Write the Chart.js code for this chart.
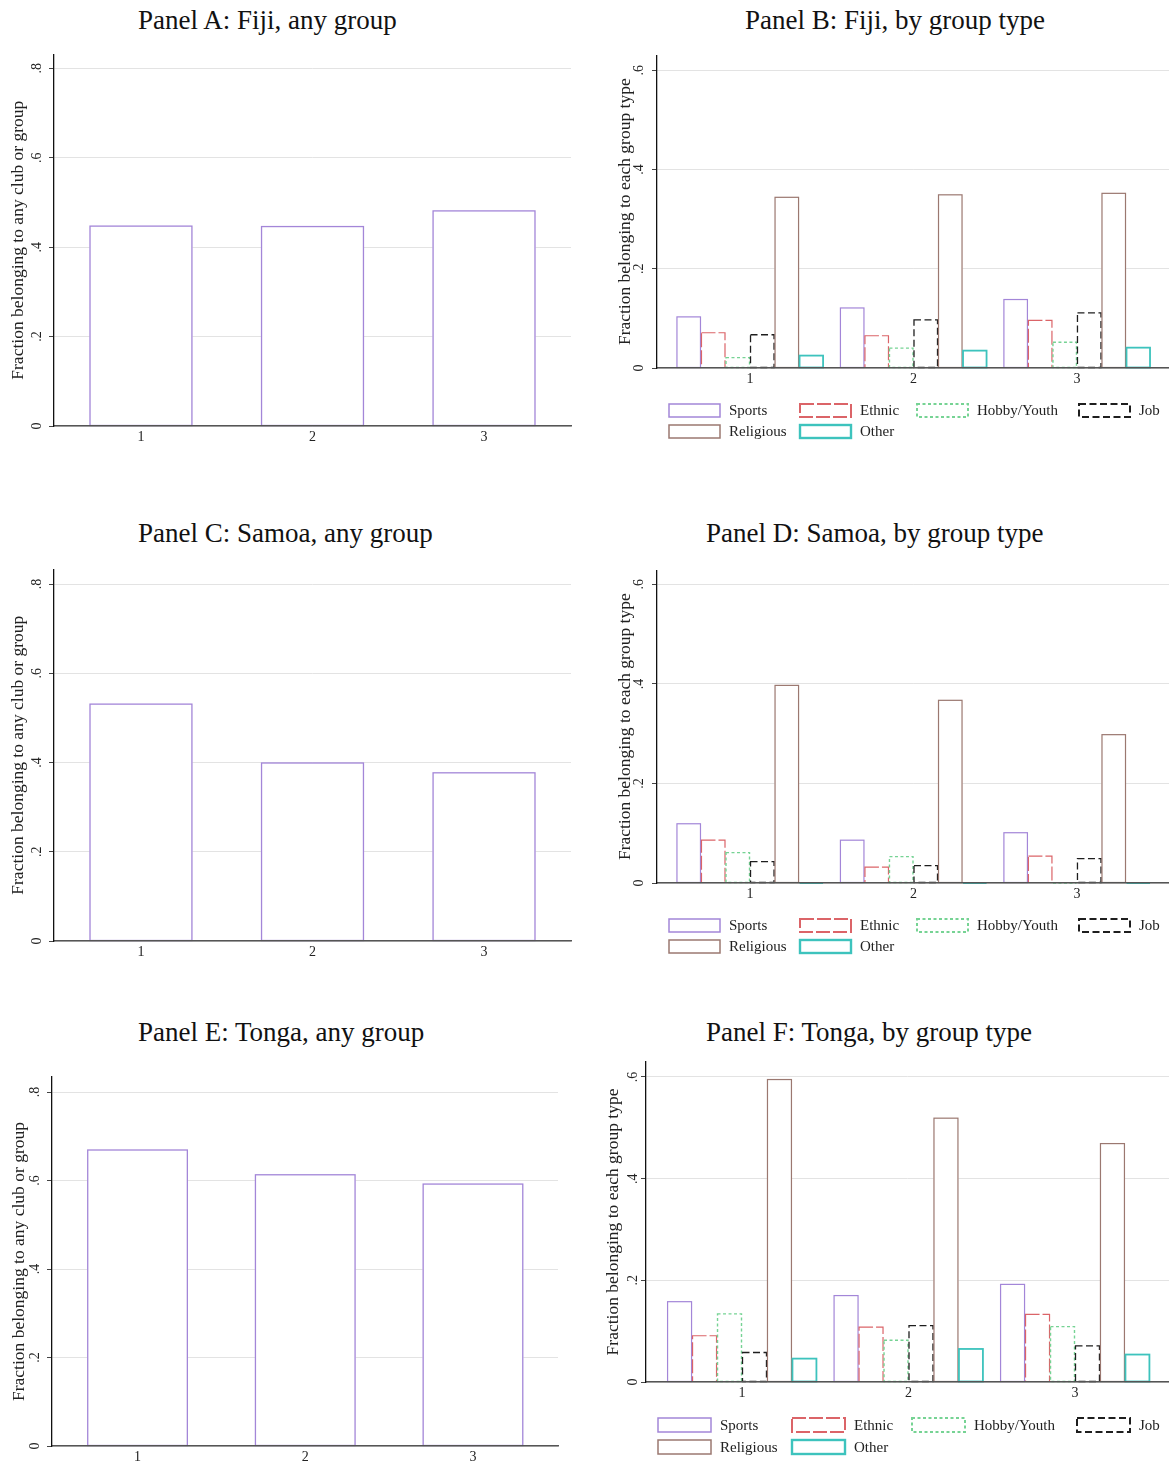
<!DOCTYPE html>
<html>
<head>
<meta charset="utf-8">
<script src="https://cdn.jsdelivr.net/npm/chart.js@4.4.1/dist/chart.umd.min.js"></script>
<style>
  html, body { margin: 0; padding: 0; background: #fff; }
  body { width: 1169px; height: 1465px; position: relative; overflow: hidden; font-family: "Liberation Serif", serif; }
  .title { position: absolute; font-size: 27px; line-height: 30px; color: #111; white-space: nowrap; }
  canvas { position: absolute; }
</style>
</head>
<body>
<div class="title" style="left:138px;top:5px">Panel A: Fiji, any group</div>
<div class="title" style="left:745px;top:5px">Panel B: Fiji, by group type</div>
<div class="title" style="left:138px;top:518px">Panel C: Samoa, any group</div>
<div class="title" style="left:706px;top:518px">Panel D: Samoa, by group type</div>
<div class="title" style="left:138px;top:1017px">Panel E: Tonga, any group</div>
<div class="title" style="left:706px;top:1017px">Panel F: Tonga, by group type</div>

<canvas id="panelA" width="580" height="420" style="left:0;top:40px"></canvas>
<canvas id="panelB" width="569" height="420" style="left:600px;top:40px"></canvas>
<canvas id="panelC" width="580" height="420" style="left:0;top:555px"></canvas>
<canvas id="panelD" width="569" height="420" style="left:600px;top:555px"></canvas>
<canvas id="panelE" width="580" height="405" style="left:0;top:1060px"></canvas>
<canvas id="panelF" width="569" height="415" style="left:600px;top:1050px"></canvas>

<script>
// Vagues d'enquête (axe x) et graduations
const waves = [1, 2, 3];
const anyTicks = [0, 0.2, 0.4, 0.6, 0.8];
const typeTicks = [0, 0.2, 0.4, 0.6];
const groupTypes = ['Sports', 'Ethnic', 'Hobby/Youth', 'Job', 'Religious', 'Other'];

// Panneaux A, C, E : n'importe quel groupe
const fijiAny = [0.447, 0.446, 0.481];
const samoaAny = [0.531, 0.399, 0.377];
const tongaAny = [0.669, 0.613, 0.592];

// Panneau B : Fidji par type de groupe
const fijiSports = [0.103, 0.121, 0.138];
const fijiEthnic = [0.071, 0.065, 0.096];
const fijiHobby = [0.021, 0.040, 0.052];
const fijiJob = [0.067, 0.097, 0.111];
const fijiReligious = [0.344, 0.349, 0.352];
const fijiOther = [0.025, 0.035, 0.041];

// Panneau D : Samoa par type de groupe
const samoaSports = [0.119, 0.086, 0.101];
const samoaEthnic = [0.086, 0.032, 0.054];
const samoaHobby = [0.061, 0.053, 0];
const samoaJob = [0.043, 0.035, 0.049];
const samoaReligious = [0.397, 0.367, 0.298];
const samoaOther = [0, 0, 0];

// Panneau F : Tonga par type de groupe
const tongaSports = [0.158, 0.170, 0.192];
const tongaEthnic = [0.091, 0.108, 0.133];
const tongaHobby = [0.134, 0.082, 0.109];
const tongaJob = [0.058, 0.111, 0.071];
const tongaReligious = [0.595, 0.519, 0.469];
const tongaOther = [0.046, 0.065, 0.054];

// Styles des contours (couleur, pointillés, épaisseur)
const typeColors = ['#a386d8', '#db6468', '#76d394', '#1e1e1e', '#9b7870', '#3dc3bd'];
const typeDashes = [[], [14, 3], [3, 2.5], [7, 3.5], [], []];
const typeWidths = [1.2, 1.2, 1.4, 1.3, 1.2, 1.8];
const legendWidths = [1.5, 2, 2, 2, 1.5, 2.4];
const anyColor = '#a386d8';

const FONT = '"Liberation Serif", serif';

// Chart.js ne sait pas faire des barres en pointillés : on trace les contours à la main
const barOutline = {
    id: 'barOutline',
    afterDatasetsDraw(chart) {
        const ctx = chart.ctx;
        chart.data.datasets.forEach((ds, i) => {
            const meta = chart.getDatasetMeta(i);
            meta.data.forEach(bar => {
                const p = bar.getProps(['x', 'y', 'base', 'width'], true);
                ctx.save();
                ctx.strokeStyle = ds.outlineColor;
                ctx.lineWidth = ds.outlineWidth;
                ctx.setLineDash(ds.outlineDash);
                ctx.strokeRect(p.x - p.width / 2 + 0.5, p.y, p.width - 1, p.base - p.y);
                ctx.restore();
            });
        });
    }
};

// Légende en colonnes (4 par ligne), comme dans Stata
const columnLegend = {
    id: 'columnLegend',
    afterDraw(chart, args, opts) {
        const ctx = chart.ctx;
        const area = chart.chartArea;
        chart.data.datasets.forEach((ds, i) => {
            const col = i % 4;
            const row = Math.floor(i / 4);
            const bx = area.left + opts.cols[col];
            const by = area.bottom + opts.rowTop + row * opts.rowGap;
            ctx.save();
            ctx.strokeStyle = ds.outlineColor;
            ctx.lineWidth = ds.legendWidth;
            ctx.setLineDash(ds.outlineDash);
            ctx.strokeRect(bx, by, opts.boxW, opts.boxH);
            ctx.restore();
            ctx.save();
            ctx.fillStyle = '#222';
            ctx.font = '15px ' + FONT;
            ctx.textBaseline = 'middle';
            ctx.textAlign = 'left';
            ctx.fillText(ds.label, bx + opts.textDx, by + opts.boxH / 2 + 1);
            ctx.restore();
        });
    }
};

function fmtTick(v) {
    return v === 0 ? '0' : String(v).replace(/^0\./, '.');
}

function makeChart(id, datasets, yTicks, yTitle, lay) {
    const ctx = document.getElementById(id);
    const byType = datasets.length > 1;
    return new Chart(ctx, {
        type: 'bar',
        data: {
            labels: waves,
            datasets: datasets
        },
        plugins: byType ? [barOutline, columnLegend] : [barOutline],
        options: {
            responsive: false,
            animation: false,
            layout: {
                padding: { top: lay.padTop, right: lay.padRight, left: 0, bottom: 0 }
            },
            plugins: {
                colors: { enabled: false },
                legend: { display: false },
                tooltip: { enabled: false },
                columnLegend: lay.legend
            },
            scales: {
                x: {
                    type: 'linear',
                    offset: false,
                    min: lay.xMin,
                    max: lay.xMax,
                    afterBuildTicks: (scale) => { scale.ticks = waves.map(v => ({ value: v })); },
                    afterFit: (scale) => { scale.height = lay.xHeight; },
                    grid: { display: false, drawTicks: false, offset: false },
                    border: { display: true, color: '#555', width: 1.5, z: 1 },
                    ticks: {
                        padding: 3,
                        color: '#222',
                        font: { family: FONT, size: 14 },
                        callback: (v) => String(v)
                    }
                },
                y: {
                    min: 0,
                    max: lay.yMax,
                    afterBuildTicks: (scale) => { scale.ticks = yTicks.map(v => ({ value: v })); },
                    afterFit: (scale) => { scale.width = lay.yWidth; },
                    grid: {
                        color: '#e3e3e3',
                        lineWidth: 1,
                        tickColor: '#444',
                        tickLength: 5
                    },
                    border: { display: true, color: '#111', width: 1.3, z: 1 },
                    ticks: {
                        minRotation: 90,
                        maxRotation: 90,
                        crossAlign: 'center',
                        padding: lay.tickPad,
                        color: '#222',
                        font: { family: FONT, size: 14 },
                        callback: fmtTick
                    },
                    title: {
                        display: true,
                        text: yTitle,
                        color: '#222',
                        font: { family: FONT, size: 17.5 },
                        padding: { top: lay.titlePad, bottom: 0 }
                    }
                }
            }
        }
    });
}

function anyDataset(values) {
    return [{
        label: 'Any group',
        data: values,
        backgroundColor: '#ffffff',
        borderWidth: 0,
        inflateAmount: 0,
        categoryPercentage: 1,
        barPercentage: 0.6,
        outlineColor: anyColor,
        outlineDash: [],
        outlineWidth: 1.3,
        legendWidth: 1.5
    }];
}

function typeDatasets(seriesList) {
    return seriesList.map((values, i) => ({
        label: groupTypes[i],
        data: values,
        backgroundColor: '#ffffff',
        borderWidth: 0,
        inflateAmount: 0,
        categoryPercentage: 0.9,
        barPercentage: 1,
        outlineColor: typeColors[i],
        outlineDash: typeDashes[i],
        outlineWidth: typeWidths[i],
        legendWidth: legendWidths[i]
    }));
}

const anyTitle = 'Fraction belonging to any club or group';
const typeTitle = 'Fraction belonging to each group type';

const legendBD = { cols: [12, 143, 260, 422], rowTop: 36, rowGap: 21, boxW: 51, boxH: 13, textDx: 60 };
const legendF = { cols: [12, 146, 266, 431], rowTop: 36, rowGap: 22, boxW: 53, boxH: 14, textDx: 62 };

makeChart('panelA', anyDataset(fijiAny), anyTicks, anyTitle,
    { padTop: 9, padRight: 9, yWidth: 54, xHeight: 34, xMin: 0.493, xMax: 3.507, yMax: 0.831, tickPad: 6, titlePad: 8 });
makeChart('panelC', anyDataset(samoaAny), anyTicks, anyTitle,
    { padTop: 8, padRight: 9, yWidth: 54, xHeight: 34, xMin: 0.493, xMax: 3.507, yMax: 0.833, tickPad: 6, titlePad: 8 });
makeChart('panelE', anyDataset(tongaAny), anyTicks, anyTitle,
    { padTop: 17, padRight: 22, yWidth: 52, xHeight: 19, xMin: 0.49, xMax: 3.507, yMax: 0.834, tickPad: 6, titlePad: 9 });

makeChart('panelB', typeDatasets([fijiSports, fijiEthnic, fijiHobby, fijiJob, fijiReligious, fijiOther]), typeTicks, typeTitle,
    { padTop: 14, padRight: 0, yWidth: 57, xHeight: 92, xMin: 0.431, xMax: 3.563, yMax: 0.630, tickPad: 7, titlePad: 15, legend: legendBD });
makeChart('panelD', typeDatasets([samoaSports, samoaEthnic, samoaHobby, samoaJob, samoaReligious, samoaOther]), typeTicks, typeTitle,
    { padTop: 14, padRight: 0, yWidth: 57, xHeight: 92, xMin: 0.431, xMax: 3.563, yMax: 0.628, tickPad: 7, titlePad: 15, legend: legendBD });
makeChart('panelF', typeDatasets([tongaSports, tongaEthnic, tongaHobby, tongaJob, tongaReligious, tongaOther]), typeTicks, typeTitle,
    { padTop: 12, padRight: 0, yWidth: 46, xHeight: 83, xMin: 0.4234, xMax: 3.5646, yMax: 0.6295, tickPad: 2, titlePad: 3, legend: legendF });
</script>
</body>
</html>
